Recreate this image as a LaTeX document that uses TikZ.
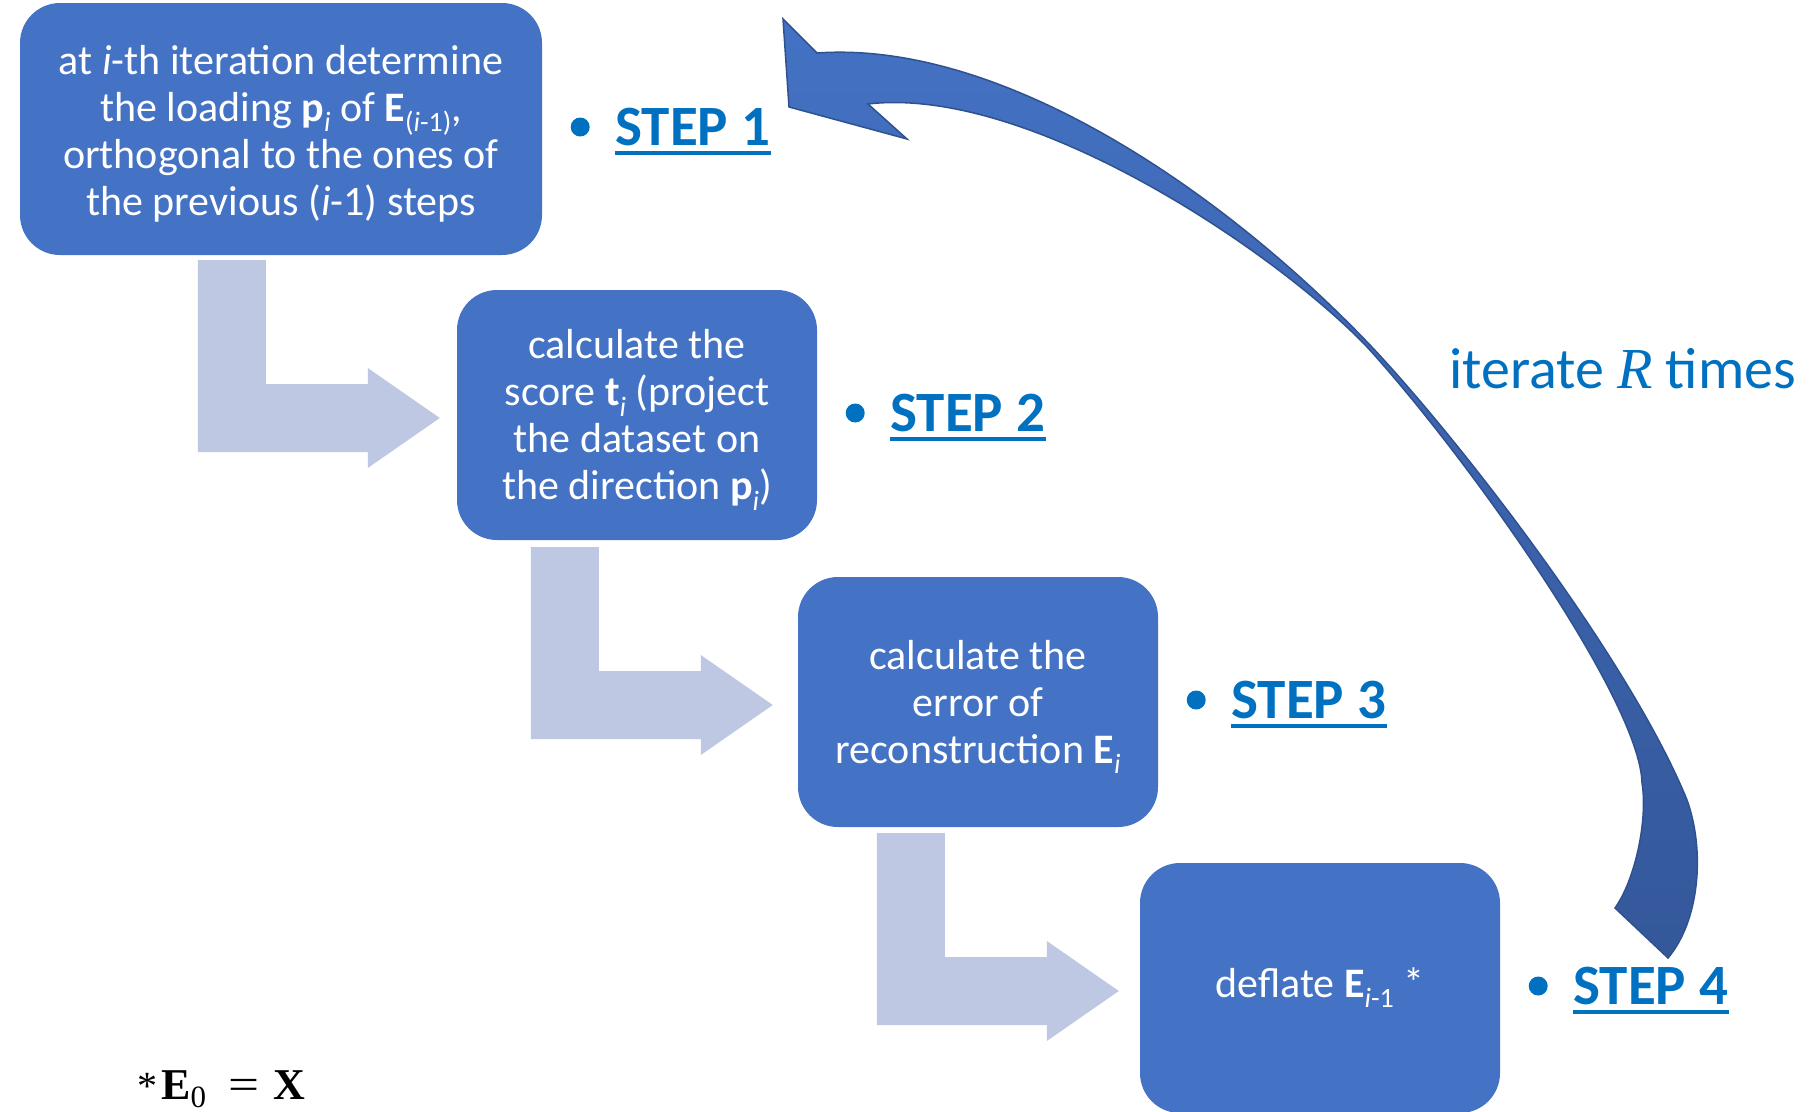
\documentclass[tikz,border=0pt]{standalone}
\usepackage[no-math]{fontspec}
\usepackage{graphicx}
\setmainfont{Carlito}
\newfontfamily\serifmath{Liberation Serif}
\usetikzlibrary{calc}
\definecolor{boxblue}{HTML}{4472C4}
\definecolor{stepblue}{HTML}{0070C0}
\definecolor{lightarr}{RGB}{191,200,227}
\definecolor{curvetop}{HTML}{4472C4}
\definecolor{curvemid}{HTML}{3B62AC}
\definecolor{curvebot}{HTML}{34589A}
\definecolor{curveline}{HTML}{2F528F}
\newcommand\boxfont{\fontsize{42}{47}\selectfont}
\newcommand\mysub[1]{\raisebox{-0.24em}{\fontsize{28}{28}\selectfont #1}}
\newcommand\toppad{\rule{0pt}{39pt}}
\begin{document}
\begin{tikzpicture}[x=1pt,y=-1pt,
  box/.style={fill=boxblue, rounded corners=40pt, text=white, align=center,
    font=\boxfont, inner sep=0pt},
  steptext/.style={font=\bfseries\fontsize{57}{60}\selectfont, text=stepblue,
    inner sep=0pt, anchor=base west},
  stepline/.style={draw=stepblue, line width=3.5pt},
  bulletdot/.style={circle, fill=stepblue, inner sep=0pt, minimum size=19pt},
  bentarr/.pic={\fill[lightarr] (-242,-158) -- (-174,-158) -- (-174,-34)
     -- (-72,-34) -- (-72,-50) -- (0,0) -- (-72,50) -- (-72,34)
     -- (-242,34) -- cycle;}
  ]
\useasboundingbox (0,0) rectangle (1809,1111);

% boxes
\node[box, minimum width=522pt, minimum height=252pt] (b1) at (281,129)
  {\toppad at \textit{i}-th iteration determine\\
   the loading \textbf{p}\mysub{\textit{i}} of \textbf{E}\mysub{(\textit{i}-1)},\\
   orthogonal to the ones of\\
   the previous (\textit{i}-1) steps};
\node[box, minimum width=360pt, minimum height=250pt] (b2) at (637,415)
  {\toppad calculate the\\
   score \textbf{t}\mysub{\textit{i}} (project\\
   the dataset on\\
   the direction \textbf{p}\mysub{\textit{i}})};
\node[box, minimum width=360pt, minimum height=250pt] (b3) at (978,702)
  {\toppad calculate the\\
   error of\\
   reconstruction \textbf{E}\mysub{\textit{i}}};
\node[box, minimum width=360pt, minimum height=250pt] (b4) at (1320,988)
  {deflate \textbf{E}\mysub{\textit{i}-1} *};

% bent arrows
\pic at ($(b2.west)+(-17,3)$) {bentarr};
\pic at ($(b3.west)+(-25,3)$) {bentarr};
\pic at ($(b4.west)+(-21,3)$) {bentarr};

% step labels
\foreach \b/\n in {b1/1,b2/2,b3/3,b4/4}{
  \node[bulletdot] (d\n) at ($(\b.east)+(38,-2)$) {};
  \node[steptext] (t\n) at ($(\b.east)+(73,16)$) {STEP \n};
  \draw[stepline] ($(t\n.base west)+(0,8)$) -- ($(t\n.base east)+(1,8)$);
}

% curved arrow (iterate back from step 4 to step 1)
\draw[draw=curveline, line width=1.5pt, top color=curvetop, bottom color=curvebot, middle color=curvemid]
  (783,19) -- (817,53)
  .. controls (1000,40) and (1220,188) .. (1370,345)
  .. controls (1460,440) and (1630,660) .. (1687,800)
  .. controls (1705,850) and (1700,920) .. (1668,958)
  -- (1615,908)
  .. controls (1635,880) and (1648,820) .. (1642,783)
  .. controls (1640,700) and (1468,458) .. (1368,348)
  .. controls (1278,253) and (1030,85) .. (868,104)
  -- (907,139) -- (789,107) -- cycle;

\node[anchor=base west, inner sep=0pt, text=stepblue, font=\fontsize{58}{60}\selectfont]
  (iter) at (1449,388) {iterate {\serifmath\itshape R} times};

\node[anchor=base west, inner sep=0pt, font=\serifmath\fontsize{44}{48}\selectfont]
  (note) at (137,1099) {{\fontsize{40}{40}\selectfont *}\hspace{4pt}\textbf{E}\raisebox{-0.2em}{\fontsize{31}{31}\selectfont 0}\hspace{22pt}\scalebox{1.25}[1]{=}\hspace{14pt}\textbf{X}};
\end{tikzpicture}
\end{document}
